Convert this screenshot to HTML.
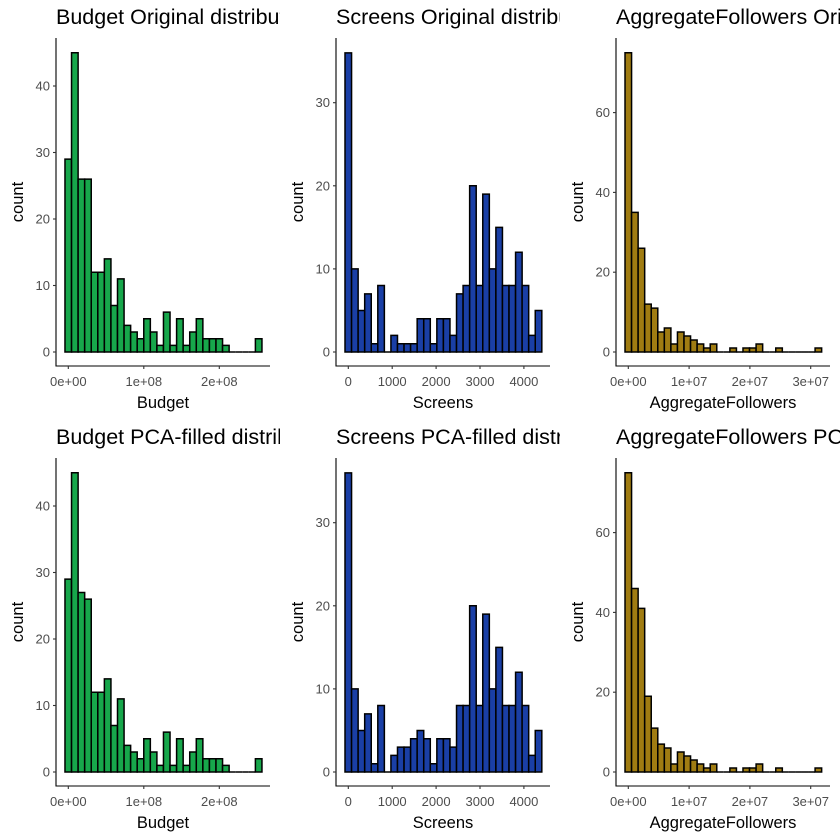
<!DOCTYPE html>
<html><head><meta charset="utf-8"><style>
body{margin:0;background:#fff}
svg{display:block;font-family:"Liberation Sans",sans-serif}
</style></head><body>
<svg id="c" width="840" height="840" xmlns="http://www.w3.org/2000/svg"></svg>
<script>
// ---- data ----
const budgetOrigCounts = [29,45,26,26,12,12,14,7,11,4,3,2,5,3,1,6,1,5,1,3,5,2,2,2,1,0,0,0,0,2];
const budgetPcaCounts  = [29,45,27,26,12,12,14,7,11,4,3,2,5,3,1,6,1,5,1,3,5,2,2,2,1,0,0,0,0,2];
const screensOrigCounts = [36,10,5,7,1,8,0,2,1,1,1,4,4,1,4,4,2,7,8,20,8,19,10,15,8,8,12,8,2,5];
const screensPcaCounts  = [36,10,5,7,1,8,0,2,3,3,4,5,4,1,4,4,3,8,8,20,8,19,10,15,8,8,12,8,2,5];
const followersOrigCounts = [75,35,26,12,11,5,6,2,5,4,3,2,1,2,0,0,1,0,1,1,2,0,0,1,0,0,0,0,0,1];
const followersPcaCounts  = [75,46,41,19,11,7,6,2,5,4,3,2,1,2,0,0,1,0,1,1,2,0,0,1,0,0,0,0,0,1];
const budgetTicksX = [0,1e8,2e8];
const budgetTickLabels = ["0e+00","1e+08","2e+08"];
const screensTicksX = [0,1000,2000,3000,4000];
const screensTickLabels = ["0","1000","2000","3000","4000"];
const followersTicksX = [0,1e7,2e7,3e7];
const followersTickLabels = ["0e+00","1e+07","2e+07","3e+07"];
const budgetTicksY = [0,10,20,30,40];
const screensTicksY = [0,10,20,30];
const followersTicksY = [0,20,40,60];
const panelTitles = ["Budget Original distribution","Screens Original distribution","AggregateFollowers Original distribution",
  "Budget PCA-filled distribution","Screens PCA-filled distribution","AggregateFollowers PCA-filled distribution"];

const NS="http://www.w3.org/2000/svg";
const svg=document.getElementById('c');
function mk(tag,attrs,parent){const e=document.createElementNS(NS,tag);for(const k in attrs)e.setAttribute(k,attrs[k]);(parent||svg).appendChild(e);return e;}

const vars=[
 {name:"Budget",fill:"#17a74b",xmin:-4.4e6,xmax:2.565e8,x0px:68.3,pxPer:75.5/1e8,pxPerY:6.65,ticksX:budgetTicksX,labX:budgetTickLabels,ticksY:budgetTicksY},
 {name:"Screens",fill:"#1a3fa6",xmin:-75,xmax:4408,x0px:68.3,pxPer:43.9/1000,pxPerY:8.31,ticksX:screensTicksX,labX:screensTickLabels,ticksY:screensTicksY},
 {name:"AggregateFollowers",fill:"#a07c12",xmin:-5.4e5,xmax:3.18e7,x0px:68.3,pxPer:60.8/1e7,pxPerY:3.99,ticksX:followersTicksX,labX:followersTickLabels,ticksY:followersTicksY}
];
const rows=[[budgetOrigCounts,screensOrigCounts,followersOrigCounts],[budgetPcaCounts,screensPcaCounts,followersPcaCounts]];

for(let r=0;r<2;r++){
 for(let c=0;c<3;c++){
  const v=vars[c], counts=rows[r][c];
  const ox=c*280, oy=r*420;
  const id='clip'+r+c;
  const cp=mk('clipPath',{id:id});
  mk('rect',{x:ox,y:oy,width:280,height:420},cp);
  const g=mk('g',{'clip-path':'url(#'+id+')'});
  
  
  const sx=x=>ox+v.x0px+x*v.pxPer;
  const sy=y=>oy+352-y*v.pxPerY;
  const t=mk('text',{x:ox+56,y:oy+24,'font-size':21.5,fill:'#000'},g);
  t.textContent=panelTitles[r*3+c];
  
  
  const bw=(v.xmax-v.xmin)/counts.length;
  counts.forEach((n,i)=>{
   const x1=sx(v.xmin+i*bw), x2=sx(v.xmin+(i+1)*bw);
   const y1=sy(n), y0=sy(0);
   const b=mk('path',{d:'M'+x1+' '+y0+'V'+y1+'H'+x2+'V'+y0+'Z',fill:v.fill,stroke:'#000','stroke-width':1.5},g);
   
   
  });
  const ya=mk('line',{x1:ox+56,y1:oy+38,x2:ox+56,y2:oy+366.5,stroke:'#000','stroke-width':1.1},g);
  
  
  const xa=mk('line',{x1:ox+55.5,y1:oy+366,x2:ox+270,y2:oy+366,stroke:'#000','stroke-width':1.1},g);
  
  
  v.ticksY.forEach(tv=>{
   mk('line',{x1:ox+53,y1:sy(tv),x2:ox+56,y2:sy(tv),stroke:'#333','stroke-width':1.1},g);
   const l=mk('text',{x:ox+50,y:sy(tv)+4.5,'font-size':13,fill:'#4d4d4d','text-anchor':'end'},g);
   l.textContent=tv;
   
   
  });
  v.ticksX.forEach((tv,k)=>{
   mk('line',{x1:sx(tv),y1:oy+366,x2:sx(tv),y2:oy+369,stroke:'#333','stroke-width':1.1},g);
   const l=mk('text',{x:sx(tv),y:oy+386,'font-size':13,fill:'#4d4d4d','text-anchor':'middle'},g);
   l.textContent=v.labX[k];
   
   
  });
  const xt=mk('text',{x:ox+163,y:oy+408,'font-size':16.5,fill:'#000','text-anchor':'middle'},g);
  xt.textContent=v.name;
  
  
  const yt=mk('text',{x:0,y:0,'font-size':16.5,fill:'#000','text-anchor':'middle',transform:'translate('+(ox+23)+','+(oy+202)+') rotate(-90)'},g);
  yt.textContent='count';
  
  
 }
}
</script>
</body></html>
